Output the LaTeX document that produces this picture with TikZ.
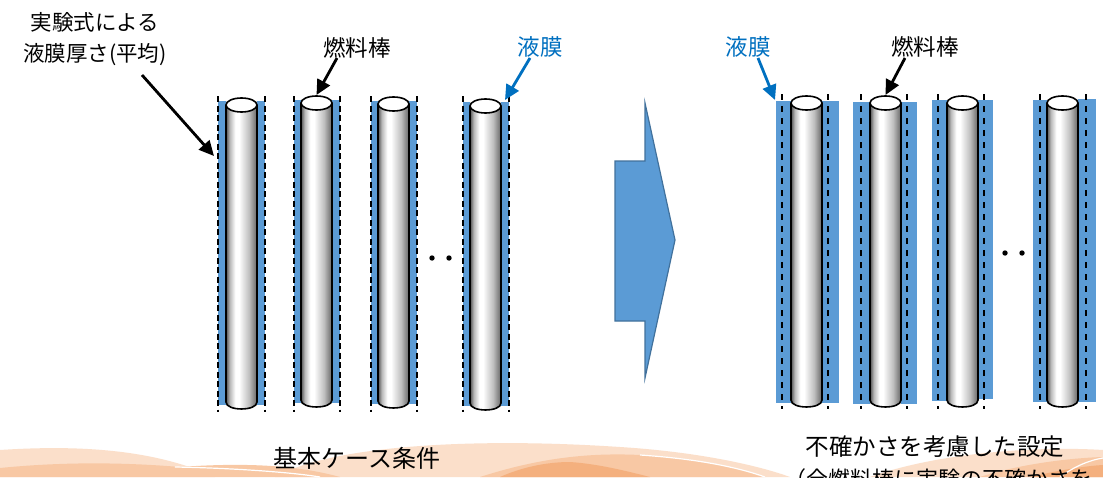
\documentclass[tikz,border=0pt]{standalone}
\usepackage{fontspec}
\newfontfamily\jp{Noto Sans CJK JP}
\usetikzlibrary{arrows.meta}
\definecolor{film}{HTML}{5B9BD5}
\definecolor{filmtxt}{HTML}{0070C0}
\definecolor{arrowedge}{HTML}{41719C}
\definecolor{wlight}{HTML}{FBDFCA}
\definecolor{wmid}{HTML}{F8C8A4}
\definecolor{wdark}{HTML}{F4B07E}
\pgfdeclarehorizontalshading{cyl}{100bp}{color(0bp)=(black!68); color(25bp)=(black!68); color(31bp)=(black!28); color(40bp)=(white); color(46bp)=(white); color(62bp)=(black!25); color(75bp)=(black!60); color(100bp)=(black!60)}
\tikzset{
  lbl/.style={font={\jp\fontsize{22.5pt}{26pt}\selectfont}, inner sep=0pt},
  bluelbl/.style={lbl, text=filmtxt},
  blk/.style={line width=2.8pt, -{Triangle[length=15pt,width=14pt]}},
  blu/.style={blk, draw=filmtxt},
  rodline/.style={line width=1.6pt, draw=black},
  dashL/.style={line width=1.4pt, dash pattern=on 6pt off 3.5pt},
  dashR/.style={line width=1.4pt, dash pattern=on 6pt off 6pt},
  filmbox/.style={fill=film},
}
\newcommand{\cylrod}[5]{%
  \shade[shading=cyl] (#2-#5,#3) -- (#2-#5,#4) .. controls (#2-#5,#4+9.3) and (#2+#5,#4+9.3) .. (#2+#5,#4) -- (#2+#5,#3) -- cycle;
  \draw[rodline] (#2-#5,#3) -- (#2-#5,#4) .. controls (#2-#5,#4+9.3) and (#2+#5,#4+9.3) .. (#2+#5,#4) -- (#2+#5,#3);
  \filldraw[rodline, fill=white] (#2,#3) ellipse [x radius=#5pt, y radius=7pt];
  \coordinate (#1) at (#2,#3-8);
}
\begin{document}
\begin{tikzpicture}[x=1pt,y=-1pt]
\useasboundingbox (0,0) rectangle (1103,477);
\fill[white] (0,0) rectangle (1103,477);
% background waves
\begin{scope}
\clip (0,418) rectangle (1103,477);
\fill[wlight] (0,450) .. controls (90,444) and (160,452) .. (215,477) -- (0,477) -- cycle;
\fill[wlight] (275,477) .. controls (330,446) and (470,437) .. (620,447) .. controls (700,452) and (760,466) .. (790,477) -- cycle;
\fill[wlight] (870,477) .. controls (940,452) and (1040,446) .. (1103,450) -- (1103,477) -- cycle;
\fill[wmid] (0,468) .. controls (60,462) and (120,462) .. (180,467) .. controls (250,462) and (300,466) .. (340,477) -- (0,477) -- cycle;
\fill[wmid] (480,477) .. controls (530,461) and (580,452) .. (640,455) .. controls (700,459) and (740,468) .. (765,477) -- cycle;
\fill[wmid] (980,477) .. controls (1020,464) and (1070,458) .. (1103,457) -- (1103,477) -- cycle;
\fill[wdark] (500,477) .. controls (520,468) and (545,462) .. (570,462) .. controls (600,464) and (630,472) .. (650,477) -- cycle;
\fill[wdark] (1030,477) .. controls (1060,470) and (1085,466) .. (1103,465) -- (1103,477) -- cycle;
\draw[white, line width=1.2pt] (175,467) .. controls (230,468) and (290,472) .. (320,477);
\draw[white, line width=1.2pt] (640,455) .. controls (700,459) and (740,468) .. (765,477);
\draw[white, line width=1.2pt] (1060,477) .. controls (1075,466) and (1090,460) .. (1103,458);
\end{scope}
% base case films
\fill[filmbox] (218,101) rectangle (226,405); \fill[filmbox] (257,101) rectangle (265,405);
\fill[filmbox] (294,100) rectangle (301,403); \fill[filmbox] (332,100) rectangle (340,403);
\fill[filmbox] (371,101) rectangle (378,404); \fill[filmbox] (409,101) rectangle (417,404);
\fill[filmbox] (463,102) rectangle (470,406); \fill[filmbox] (501,102) rectangle (509,406);
% uncertainty films
\fill[filmbox] (776,101) rectangle (791,403); \fill[filmbox] (822,101) rectangle (839,403);
\fill[filmbox] (853,102) rectangle (870,404); \fill[filmbox] (901,102) rectangle (917,404);
\fill[filmbox] (932,100) rectangle (947,401); \fill[filmbox] (978,100) rectangle (993,399);
\fill[filmbox] (1033,100) rectangle (1047,402); \fill[filmbox] (1078,99) rectangle (1096,402);
% dashed lines
\foreach \xx in {218,265,294,340,371,417,463,509}
  \draw[dashL] (\xx,96) -- (\xx,412);
\foreach \xx in {782,828,861,907,938,984,1040,1086}
  \draw[dashR] (\xx,94) -- (\xx,409);
% rods
\cylrod{L1}{241.5}{105}{402}{15.5}
\cylrod{L2}{316.5}{103}{400}{15.5}
\cylrod{L3}{393.5}{104}{401}{15.5}
\cylrod{L4}{485.5}{106}{403}{15.5}
\cylrod{R1}{806.5}{103}{400}{15.5}
\cylrod{R2}{885.5}{103}{400}{15.5}
\cylrod{R3}{962.5}{103}{400}{15.5}
\cylrod{R4}{1062.5}{103}{400}{15.5}
% dots
\fill (432,258) circle (2.7pt); \fill (449,258) circle (2.7pt);
\fill (1005,253) circle (2.7pt); \fill (1022,253) circle (2.7pt);
% block arrow
\filldraw[fill=film, draw=arrowedge, line width=1.2pt]
  (615,161) -- (645,161) -- (645,103) -- (675,240) -- (645,378) -- (645,321) -- (615,321) -- cycle;
% labels
\node[lbl, align=center, font={\jp\fontsize{21.5pt}{31pt}\selectfont}] (avg) at (95,39) {実験式による\\液膜厚さ(平均)};
\node[lbl] (fuelL) at (357,48) {燃料棒};
\node[bluelbl] (filmL) at (540,47) {液膜};
\node[bluelbl] (filmR) at (748,47) {液膜};
\node[lbl] (fuelR) at (925,47) {燃料棒};
\node[lbl, font={\jp\fontsize{24pt}{28pt}\selectfont}] (base) at (357,458) {基本ケース条件};
\node[lbl, font={\jp\fontsize{23.5pt}{28pt}\selectfont}] (unc) at (935,447) {不確かさを考慮した設定};
\node[lbl, anchor=west, font={\jp\fontsize{22pt}{26pt}\selectfont}] (unc2) at (784,479) {（全燃料棒に実験の不確かさを};
% connectors
\coordinate (avgS) at (142,75);
\coordinate (L1w) at (214,156);
\coordinate (fuelLS) at (337,58);
\coordinate (filmLS) at (530,58);
\coordinate (filmLT) at (505,100);
\coordinate (filmRS) at (758,58);
\coordinate (filmRT) at (775,100);
\coordinate (fuelRS) at (905,58);
\draw[blk] (avgS) -- (L1w);
\draw[blk] (fuelLS) -- (L2);
\draw[blu] (filmLS) -- (filmLT);
\draw[blu] (filmRS) -- (filmRT);
\draw[blk] (fuelRS) -- (R2);
\end{tikzpicture}
\end{document}
